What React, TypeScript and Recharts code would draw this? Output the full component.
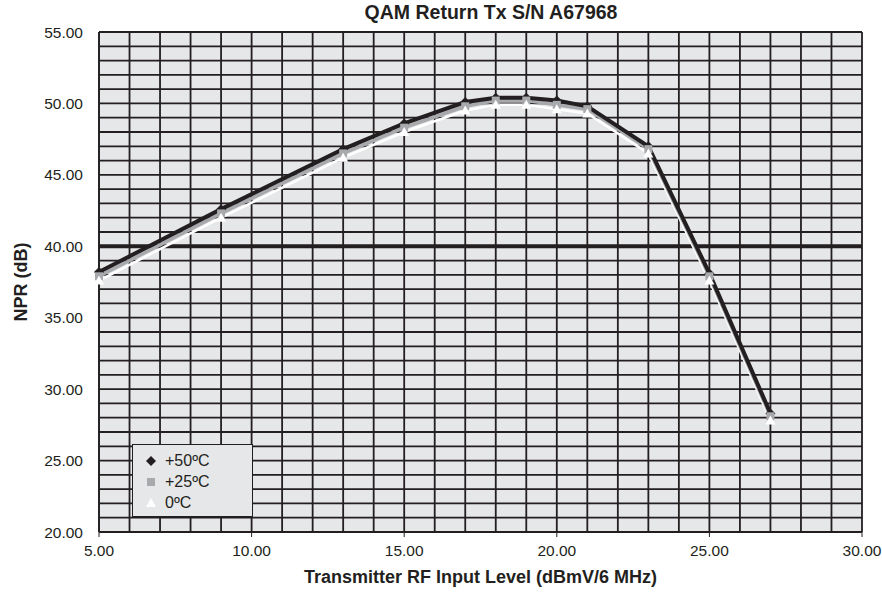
import React from 'react'
import {
  LineChart,
  Line,
  XAxis,
  YAxis,
  CartesianGrid,
  ReferenceLine,
  Legend,
  Label,
} from 'recharts'

const inputLevels = [5, 9, 13, 15, 17, 18, 19, 20, 21, 23, 25, 27]
const npr50 = [38.2, 42.6, 46.8, 48.6, 50.1, 50.4, 50.4, 50.2, 49.8, 47.0, 38.1, 28.3]
const npr25 = [37.9, 42.3, 46.5, 48.3, 49.8, 50.2, 50.2, 49.9, 49.6, 46.8, 37.9, 28.1]
const npr0 = [37.6, 42.0, 46.2, 48.0, 49.5, 49.9, 49.9, 49.6, 49.3, 46.5, 37.6, 27.8]

const seriesNames = ['+50ºC', '+25ºC', '0ºC']
const xDomain = [5, 30]
const yDomain = [20, 55]
const xTicks = [5, 10, 15, 20, 25, 30]
const yTicks = [20, 25, 30, 35, 40, 45, 50, 55]
const gridX = [5, 6, 7, 8, 9, 10, 11, 12, 13, 14, 15, 16, 17, 18, 19, 20, 21, 22, 23, 24, 25, 26, 27, 28, 29, 30]
const gridY = [20, 21, 22, 23, 24, 25, 26, 27, 28, 29, 30, 31, 32, 33, 34, 35, 36, 37, 38, 39, 40, 41, 42, 43, 44, 45, 46, 47, 48, 49, 50, 51, 52, 53, 54, 55]
const thresholdNpr = 40

const FONT = '"Liberation Sans", Arial, sans-serif'
const INK = '#231f20'
const GREY = '#a7a9ac'

const chartData = inputLevels.map((x, i) => ({
  x,
  hot: npr50[i],
  room: npr25[i],
  cold: npr0[i],
}))

// map a value through the axis scale handed to the grid generator
const applyScale = (axis: any, v: number, start: number, size: number, domain: number[], flip: boolean) => {
  const s = axis?.scale
  if (typeof s === 'function') return s(v)
  if (s && typeof s.map === 'function') return s.map(v)
  const t = (v - domain[0]) / (domain[1] - domain[0])
  return flip ? start + size * (1 - t) : start + size * t
}

const Diamond = ({ cx, cy, fill }: any) => (
  <path d={`M${cx} ${cy - 5} L${cx + 5} ${cy} L${cx} ${cy + 5} L${cx - 5} ${cy} Z`} fill={fill} />
)
const Square = ({ cx, cy, fill }: any) => (
  <rect x={cx - 4} y={cy - 4} width={8} height={8} fill={fill} />
)
const Triangle = ({ cx, cy, fill }: any) => (
  <path d={`M${cx} ${cy - 5} L${cx + 5} ${cy + 4} L${cx - 5} ${cy + 4} Z`} fill={fill} />
)

const legendItems = [
  { name: seriesNames[0], color: INK, Shape: Diamond },
  { name: seriesNames[1], color: GREY, Shape: Square },
  { name: seriesNames[2], color: '#ffffff', Shape: Triangle },
]

const LegendBox = () => (
  <div
    style={{
      width: 121,
      height: 73,
      boxSizing: 'border-box',
      background: '#e6e7e8',
      border: `1px solid ${INK}`,
      padding: '5px 0 0 10px',
      fontFamily: FONT,
      fontSize: 16,
      color: INK,
    }}
  >
    {legendItems.map(({ name, color, Shape }) => (
      <div key={name} style={{ display: 'flex', alignItems: 'center', height: 21 }}>
        <svg width={16} height={14} style={{ marginRight: 6 }}>
          <Shape cx={8} cy={7} fill={color} />
        </svg>
        <span>{name}</span>
      </div>
    ))}
  </div>
)

export default function App() {
  return (
    <div style={{ position: 'absolute', left: 0, top: 0, width: 882, height: 592, background: '#fff' }}>
      <div
        style={{
          position: 'absolute',
          left: 100,
          width: 782,
          top: 1,
          textAlign: 'center',
          fontFamily: FONT,
          fontWeight: 'bold',
          fontSize: 19.5,
          color: INK,
        }}
      >
        QAM Return Tx S/N A67968
      </div>
      <LineChart
        width={882}
        height={592}
        data={chartData}
        margin={{ top: 32, right: 20, bottom: 12, left: 25 }}
      >
        <CartesianGrid
          fill="#e6e7e8"
          fillOpacity={1}
          stroke={INK}
          strokeWidth={1.8}
          horizontalCoordinatesGenerator={({ yAxis, offset }: any) =>
            gridY.map((v) => applyScale(yAxis, v, offset.top, offset.height, yDomain, true))
          }
          verticalCoordinatesGenerator={({ xAxis, offset }: any) =>
            gridX.map((v) => applyScale(xAxis, v, offset.left, offset.width, xDomain, false))
          }
        />
        <XAxis
          type="number"
          dataKey="x"
          domain={xDomain}
          ticks={xTicks}
          tickFormatter={(v: number) => v.toFixed(2)}
          tick={{ fill: INK, fontSize: 15.5, fontFamily: FONT }}
          axisLine={{ stroke: INK, strokeWidth: 1.5 }}
          tickLine={{ stroke: INK }}
          tickSize={5}
          tickMargin={8}
          height={48}
        >
          <Label
            value="Transmitter RF Input Level (dBmV/6 MHz)"
            position="insideBottom"
            offset={-3}
            style={{ fill: INK, fontSize: 18, fontWeight: 'bold', fontFamily: FONT }}
          />
        </XAxis>
        <YAxis
          type="number"
          domain={yDomain}
          ticks={yTicks}
          tickFormatter={(v: number) => v.toFixed(2)}
          tick={{ fill: INK, fontSize: 15.5, fontFamily: FONT }}
          axisLine={{ stroke: INK, strokeWidth: 1.5 }}
          tickLine={false}
          tickMargin={10}
          width={74}
        >
          <Label
            value="NPR (dB)"
            angle={-90}
            position="insideLeft"
            offset={-4}
            style={{ fill: INK, fontSize: 18, fontWeight: 'bold', fontFamily: FONT, textAnchor: 'middle' }}
          />
        </YAxis>
        <ReferenceLine y={thresholdNpr} stroke={INK} strokeWidth={4} />
        {/* lines: cold below, hot on top */}
        <Line
          dataKey="cold"
          name={seriesNames[2]}
          stroke="#ffffff"
          strokeWidth={2.5}
          dot={false}
          activeDot={false}
          legendType="none"
          isAnimationActive={false}
        />
        <Line
          dataKey="room"
          name={seriesNames[1]}
          stroke={GREY}
          strokeWidth={3.5}
          dot={false}
          activeDot={false}
          legendType="none"
          isAnimationActive={false}
        />
        <Line
          dataKey="hot"
          name={seriesNames[0]}
          stroke={INK}
          strokeWidth={4}
          dot={false}
          activeDot={false}
          legendType="none"
          isAnimationActive={false}
        />
        {/* markers drawn over the lines */}
        <Line
          dataKey="hot"
          stroke="none"
          dot={<Diamond fill={INK} />}
          activeDot={false}
          legendType="none"
          isAnimationActive={false}
        />
        <Line
          dataKey="room"
          stroke="none"
          dot={<Square fill={GREY} />}
          activeDot={false}
          legendType="none"
          isAnimationActive={false}
        />
        <Line
          dataKey="cold"
          stroke="none"
          dot={<Triangle fill="#ffffff" />}
          activeDot={false}
          legendType="none"
          isAnimationActive={false}
        />
        <Legend
          layout="vertical"
          align="center"
          verticalAlign="middle"
          content={<LegendBox />}
          wrapperStyle={{ left: 132, top: 444, width: 121, height: 73 }}
        />
      </LineChart>
    </div>
  )
}
